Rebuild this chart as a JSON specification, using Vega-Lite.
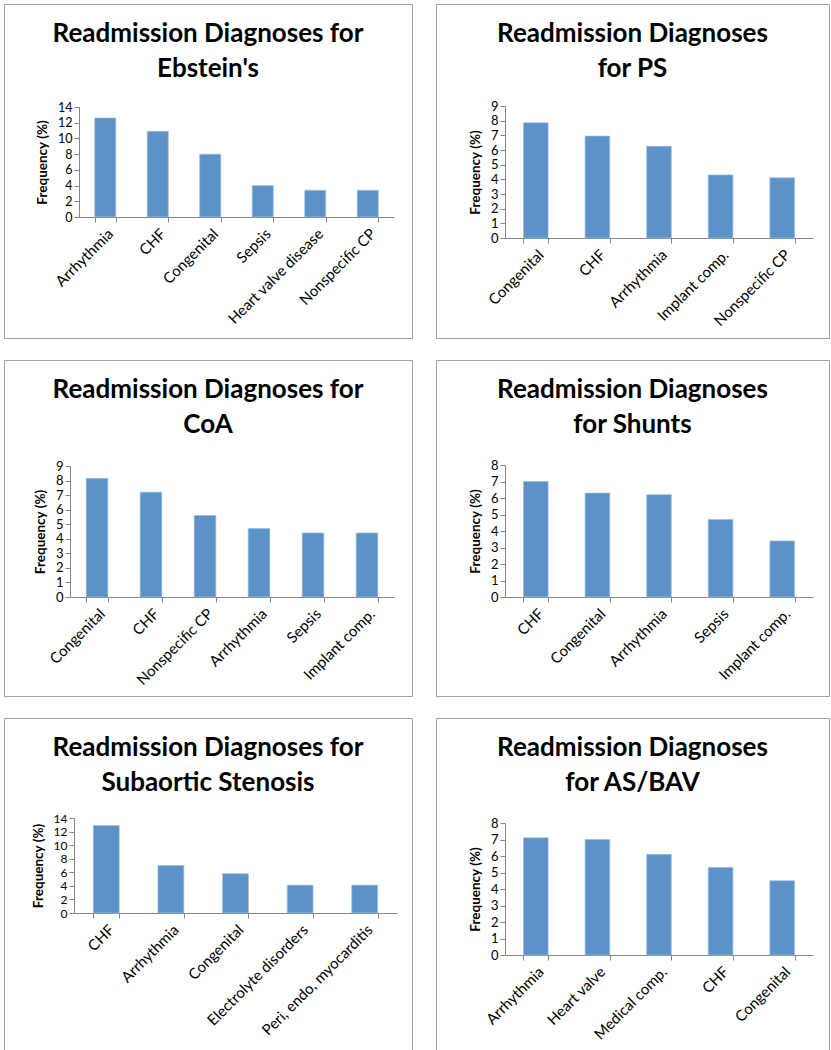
{
  "$schema": "https://vega.github.io/schema/vega-lite/v6.json",
  "padding": {"left": 3, "top": 3, "right": 0, "bottom": 0},
  "background": "white",
  "config": {
    "font": "Lato",
    "view": {"stroke": "#a0a0a0", "strokeWidth": 1},
    "title": {"font": "Lato", "fontSize": 26, "fontWeight": "bold", "color": "#000000", "lineHeight": 35, "anchor": "middle", "frame": "group", "offset": -78},
    "axis": {"labelFont": "Lato", "labelFontSize": 13, "labelColor": "#000000", "domainColor": "#868686", "tickColor": "#868686", "tickSize": 5, "grid": false, "titleFont": "Lato", "titleFontSize": 13.5, "titleFontWeight": "bold", "titleColor": "#000000"},
    "axisX": {"labelFontSize": 15},
    "bar": {"color": "#5b92c8", "stroke": "#9cbde0", "strokeWidth": 0.7}
  },
  "datasets": {
    "ebstein": [
      {"diagnosis": "Arrhythmia", "frequency": 12.6},
      {"diagnosis": "CHF", "frequency": 10.9},
      {"diagnosis": "Congenital", "frequency": 8.0},
      {"diagnosis": "Sepsis", "frequency": 4.0},
      {"diagnosis": "Heart valve disease", "frequency": 3.4},
      {"diagnosis": "Nonspecific CP", "frequency": 3.4}
    ],
    "ps": [
      {"diagnosis": "Congenital", "frequency": 7.85},
      {"diagnosis": "CHF", "frequency": 6.95},
      {"diagnosis": "Arrhythmia", "frequency": 6.25},
      {"diagnosis": "Implant comp.", "frequency": 4.3},
      {"diagnosis": "Nonspecific CP", "frequency": 4.1}
    ],
    "coa": [
      {"diagnosis": "Congenital", "frequency": 8.15},
      {"diagnosis": "CHF", "frequency": 7.2},
      {"diagnosis": "Nonspecific CP", "frequency": 5.6},
      {"diagnosis": "Arrhythmia", "frequency": 4.7},
      {"diagnosis": "Sepsis", "frequency": 4.4},
      {"diagnosis": "Implant comp.", "frequency": 4.4}
    ],
    "shunts": [
      {"diagnosis": "CHF", "frequency": 7.0},
      {"diagnosis": "Congenital", "frequency": 6.3},
      {"diagnosis": "Arrhythmia", "frequency": 6.2},
      {"diagnosis": "Sepsis", "frequency": 4.7},
      {"diagnosis": "Implant comp.", "frequency": 3.4}
    ],
    "subaortic": [
      {"diagnosis": "CHF", "frequency": 12.9},
      {"diagnosis": "Arrhythmia", "frequency": 7.0},
      {"diagnosis": "Congenital", "frequency": 5.8},
      {"diagnosis": "Electrolyte disorders", "frequency": 4.1},
      {"diagnosis": "Peri, endo, myocarditis", "frequency": 4.1}
    ],
    "asbav": [
      {"diagnosis": "Arrhythmia", "frequency": 7.1},
      {"diagnosis": "Heart valve", "frequency": 7.0},
      {"diagnosis": "Medical comp.", "frequency": 6.1},
      {"diagnosis": "CHF", "frequency": 5.3},
      {"diagnosis": "Congenital", "frequency": 4.5}
    ]
  },
  "columns": 2,
  "spacing": {"row": 20, "column": 22},
  "concat": [
    {
      "width": 408, "height": 334,
      "title": {"text": ["Readmission Diagnoses for", "Ebstein's"]},
      "data": {"name": "ebstein"},
      "mark": "bar",
      "encoding": {
        "x": {"field": "diagnosis", "type": "nominal", "sort": null,
              "scale": {"range": [75, 390], "paddingInner": 0.6, "paddingOuter": 0.3},
              "axis": {"title": null, "offset": -121, "labelAngle": -45, "tickBand": "extent", "labelPadding": 4}},
        "y": {"field": "frequency", "type": "quantitative",
              "scale": {"domain": [0, 14], "range": [213, 103], "nice": false},
              "axis": {"title": "Frequency (%)", "offset": -75, "values": [0, 2, 4, 6, 8, 10, 12, 14], "titlePadding": 8, "labelFontSize": 12.5}}
      }
    },
    {
      "width": 393, "height": 334,
      "title": {"text": ["Readmission Diagnoses", "for PS"]},
      "data": {"name": "ps"},
      "mark": "bar",
      "encoding": {
        "x": {"field": "diagnosis", "type": "nominal", "sort": null,
              "scale": {"range": [69, 377], "paddingInner": 0.6, "paddingOuter": 0.3},
              "axis": {"title": null, "offset": -100, "labelAngle": -45, "tickBand": "extent", "labelPadding": 4}},
        "y": {"field": "frequency", "type": "quantitative",
              "scale": {"domain": [0, 9], "range": [234, 102], "nice": false},
              "axis": {"title": "Frequency (%)", "offset": -69, "values": [0, 1, 2, 3, 4, 5, 6, 7, 8, 9], "titlePadding": 8}}
      }
    },
    {
      "width": 408, "height": 336,
      "title": {"text": ["Readmission Diagnoses for", "CoA"]},
      "data": {"name": "coa"},
      "mark": "bar",
      "encoding": {
        "x": {"field": "diagnosis", "type": "nominal", "sort": null,
              "scale": {"range": [66, 390], "paddingInner": 0.6, "paddingOuter": 0.3},
              "axis": {"title": null, "offset": -99, "labelAngle": -45, "tickBand": "extent", "labelPadding": 4}},
        "y": {"field": "frequency", "type": "quantitative",
              "scale": {"domain": [0, 9], "range": [237, 106], "nice": false},
              "axis": {"title": "Frequency (%)", "offset": -66, "values": [0, 1, 2, 3, 4, 5, 6, 7, 8, 9], "titlePadding": 8}}
      }
    },
    {
      "width": 393, "height": 336,
      "title": {"text": ["Readmission Diagnoses", "for Shunts"]},
      "data": {"name": "shunts"},
      "mark": "bar",
      "encoding": {
        "x": {"field": "diagnosis", "type": "nominal", "sort": null,
              "scale": {"range": [69, 377], "paddingInner": 0.6, "paddingOuter": 0.3},
              "axis": {"title": null, "offset": -99, "labelAngle": -45, "tickBand": "extent", "labelPadding": 4}},
        "y": {"field": "frequency", "type": "quantitative",
              "scale": {"domain": [0, 8], "range": [237, 105], "nice": false},
              "axis": {"title": "Frequency (%)", "offset": -69, "values": [0, 1, 2, 3, 4, 5, 6, 7, 8], "titlePadding": 8}}
      }
    },
    {
      "width": 408, "height": 334,
      "title": {"text": ["Readmission Diagnoses for", "Subaortic Stenosis"]},
      "data": {"name": "subaortic"},
      "mark": "bar",
      "encoding": {
        "x": {"field": "diagnosis", "type": "nominal", "sort": null,
              "scale": {"range": [70, 393], "paddingInner": 0.6, "paddingOuter": 0.3},
              "axis": {"title": null, "offset": -139, "labelAngle": -45, "tickBand": "extent", "labelPadding": 4}},
        "y": {"field": "frequency", "type": "quantitative",
              "scale": {"domain": [0, 14], "range": [195, 100], "nice": false},
              "axis": {"title": "Frequency (%)", "offset": -70, "values": [0, 2, 4, 6, 8, 10, 12, 14], "titlePadding": 8, "labelFontSize": 12}}
      }
    },
    {
      "width": 393, "height": 334,
      "title": {"text": ["Readmission Diagnoses", "for AS/BAV"]},
      "data": {"name": "asbav"},
      "mark": "bar",
      "encoding": {
        "x": {"field": "diagnosis", "type": "nominal", "sort": null,
              "scale": {"range": [69, 377], "paddingInner": 0.6, "paddingOuter": 0.3},
              "axis": {"title": null, "offset": -97, "labelAngle": -45, "tickBand": "extent", "labelPadding": 4}},
        "y": {"field": "frequency", "type": "quantitative",
              "scale": {"domain": [0, 8], "range": [237, 105], "nice": false},
              "axis": {"title": "Frequency (%)", "offset": -69, "values": [0, 1, 2, 3, 4, 5, 6, 7, 8], "titlePadding": 8}}
      }
    }
  ]
}
